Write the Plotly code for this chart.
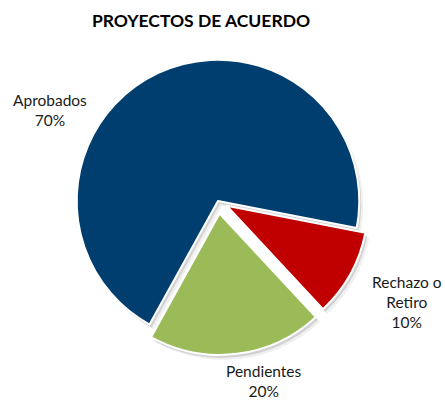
import plotly.graph_objects as go

# Project status breakdown
categories = ["Rechazo o Retiro", "Pendientes", "Aprobados"]
label_lines = [["Rechazo o", "Retiro"], ["Pendientes"], ["Aprobados"]]
values = [10, 20, 70]
colors = ["#C00000", "#9BBB59", "#003E70"]
pulls = [0.07, 0.09, 0.0]

W, H = 445, 401
FONT = "Lato, 'Liberation Sans', sans-serif"

# pie box in pixels (left, top, right, bottom)
bx0, by0, bx1, by1 = 63, 47, 373, 355


def dom(dx=0, dy=0):
    return dict(
        x=[(bx0 + dx) / W, (bx1 + dx) / W],
        y=[1 - (by1 + dy) / H, 1 - (by0 + dy) / H],
    )


fig = go.Figure()

# soft drop shadow underneath the slices
for dx, dy, a in [(4, 5, 0.06), (2, 3, 0.12)]:
    fig.add_trace(go.Pie(
        labels=categories, values=values, pull=pulls,
        sort=False, direction="clockwise", rotation=101,
        marker=dict(colors=[f"rgba(0,0,0,{a})"] * len(values),
                    line=dict(width=0)),
        textinfo="none", hoverinfo="skip", showlegend=False,
        domain=dom(dx, dy),
    ))

fig.add_trace(go.Pie(
    labels=categories, values=values, pull=pulls,
    sort=False, direction="clockwise", rotation=101,
    marker=dict(colors=colors, line=dict(color="white", width=2)),
    textinfo="none", showlegend=False,
    domain=dom(),
))

# category labels with percentage
total = sum(values)
label_pos = {"Rechazo o Retiro": (407, 302),
             "Pendientes": (264, 381),
             "Aprobados": (50, 110)}
for cat, lines, v in zip(categories, label_lines, values):
    px, py = label_pos[cat]
    text = "<br>".join(lines + [f"{round(100 * v / total)}%"])
    fig.add_annotation(
        x=px / W, y=1 - py / H, xref="paper", yref="paper",
        text=text, showarrow=False, align="center",
        xanchor="center", yanchor="middle", borderpad=0,
        font=dict(family=FONT, size=15.5, color="#1a1a1a"),
    )

fig.update_layout(
    width=W, height=H,
    margin=dict(l=0, r=0, t=0, b=0),
    paper_bgcolor="white", plot_bgcolor="white",
    title=dict(text="<b>PROYECTOS DE ACUERDO</b>",
               x=201 / W, xanchor="center", y=1 - 21 / H, yanchor="middle",
               font=dict(family=FONT, size=17.5, color="black")),
)

fig.write_html("out.html")
